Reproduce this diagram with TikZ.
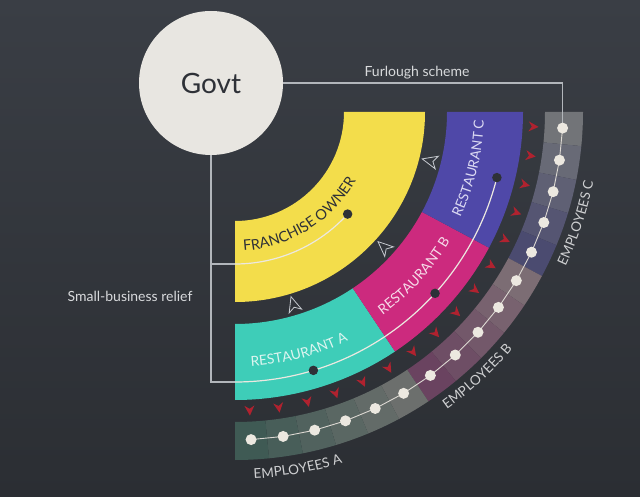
\documentclass[tikz,border=0pt]{standalone}
\usepackage{fontspec}
\setmainfont{Lato}
\usetikzlibrary{decorations.text}
\definecolor{bgtop}{HTML}{3A3E45}
\definecolor{bgbot}{HTML}{2B2E33}
\definecolor{foc}{HTML}{F3DD4B}
\definecolor{rac}{HTML}{3ECDB8}
\definecolor{rbc}{HTML}{CC2A7E}
\definecolor{rcc}{HTML}{4F48A8}
\definecolor{govtc}{HTML}{E8E6E1}
\definecolor{darktext}{HTML}{2E3137}
\definecolor{greyC}{HTML}{727478}
\definecolor{tintC}{HTML}{4B4B70}
\definecolor{greyB}{HTML}{7C6D74}
\definecolor{tintB}{HTML}{6A4360}
\definecolor{greyA}{HTML}{6C6F6D}
\definecolor{tintA}{HTML}{3F5A54}
\definecolor{cream}{HTML}{ECE8E0}
\definecolor{connc}{HTML}{B2B6BB}
\definecolor{redarr}{HTML}{B0222F}
\definecolor{warrc}{HTML}{C5C9CF}
\definecolor{ratext}{HTML}{DDF5F0}
\definecolor{rbtext}{HTML}{F6DCE9}
\definecolor{rctext}{HTML}{DCDAF3}
\definecolor{lbltext}{HTML}{D8DADC}
\definecolor{emptext}{HTML}{CFD0D2}
\newcommand\annsec[5]{\fill[#5] ([shift={(C)}]#1:#3) arc[start angle=#1,end angle=#2,radius=#3] -- ([shift={(C)}]#2:#4) arc[start angle=#2,end angle=#1,radius=#4] -- cycle;}
\tikzset{
  conn/.style={draw=connc, line width=1.2pt},
  inline/.style={draw=cream, line width=1.2pt},
  eline/.style={draw=cream!85!gray, line width=0.9pt},
  edot/.style={circle, fill=cream, minimum size=11pt, inner sep=0pt},
  ddot/.style={circle, fill=darktext, minimum size=9.5pt, inner sep=0pt},
  lbl/.style={text=lbltext, font=\fontsize{14}{16}\selectfont},
  warr/.style={draw=warrc, line width=0.8pt, line join=miter},
}
\begin{document}
\begin{tikzpicture}[x=1pt,y=1pt]
\shade[top color=bgtop,bottom color=bgbot] (0,0) rectangle (640,496);
\useasboundingbox (0,0) rectangle (640,496);
\coordinate (C) at (235,384);
% franchise owner
\annsec{-90}{0}{109}{190}{foc}
% restaurants
\annsec{-90}{-56.25}{212}{288}{rac}
\annsec{-56.25}{-28.125}{212}{288}{rbc}
\annsec{-28.125}{0}{212}{288}{rcc}
% employees blocks
\foreach \i in {0,...,15}{
  \pgfmathsetmacro\aa{-5.625*\i}
  \pgfmathsetmacro\ab{-5.625*(\i+1)}
  \ifnum\i<5
    \pgfmathtruncatemacro\p{100*\i/4}\colorlet{blk}{tintC!\p!greyC}
  \else\ifnum\i<10
    \pgfmathtruncatemacro\p{100*(\i-5)/4}\colorlet{blk}{tintB!\p!greyB}
  \else
    \pgfmathtruncatemacro\p{100*(\i-10)/5}\colorlet{blk}{tintA!\p!greyA}
  \fi\fi
  \annsec{\aa}{\ab}{310}{348}{blk}
}
% govt
\node[circle, fill=govtc, minimum size=144pt, inner sep=0pt, text=darktext, font=\fontsize{28}{30}\selectfont] (govt) at (211,413) {Govt};
% entry coordinates
\coordinate (foin) at ([shift={(C)}]-90:152);
\coordinate (rain) at ([shift={(C)}]-90:270);
% employee coordinates
\foreach \i in {0,...,15}{
  \pgfmathsetmacro\ang{-2.8125-5.625*\i}
  \coordinate (e\i) at ([shift={(C)}]\ang:328);
}
% connectors outside
\draw[conn] (govt.south) |- (rain);
\draw[conn] (govt.south |- foin) -- (foin);
\draw[conn] (govt.east) -- (govt.east -| e0) -- (e0);
% inner lines
\draw[inline] (foin) arc[start angle=-90,end angle=-42.1875,radius=152];
\draw[inline] (rain) arc[start angle=-90,end angle=-14.0625,radius=270];
\foreach \i [evaluate=\i as \j using int(\i+1)] in {0,...,14}
  \draw[eline] (e\i) -- (e\j);
% dots
\foreach \i in {0,...,15} \node[edot] (d\i) at (e\i) {};
\node[ddot] (fod) at ([shift={(C)}]-42.1875:152) {};
\node[ddot] (rad) at ([shift={(C)}]-73.125:270) {};
\node[ddot] (rbd) at ([shift={(C)}]-42.1875:270) {};
\node[ddot] (rcd) at ([shift={(C)}]-14.0625:270) {};
% red arrows
\foreach \i in {0,...,15}{
  \pgfmathsetmacro\ang{-2.8125-5.625*\i}
  \fill[redarr, shift={(C)}, rotate=\ang, xshift=299pt] (5,0) -- (-5,5) -- (-1.8,0) -- (-5,-5) -- cycle;
}
% white outline arrows
\foreach \ang in {-14.0625,-42.1875,-73.125}
  \draw[warr, shift={(C)}, rotate=\ang, xshift=201pt] (-8,0) -- (7,6.5) -- (3,0) -- (7,-6.5) -- cycle;
% labels
\node[lbl] (furl) at (417,423) {Furlough scheme};
\node[lbl] (sbr) at (130,200) {Small-business relief};
% curved texts
\path[decorate, decoration={text along path, text align=center, text={|\fontsize{14.5}{16}\selectfont\color{darktext}|FRANCHISE OWNER}}] ([shift={(C)}]-85:139) arc[start angle=-85,end angle=-31,radius=139];
\path[decorate, decoration={text along path, text align=center, text={|\fontsize{13.8}{16}\selectfont\color{ratext}|RESTAURANT A}}] ([shift={(C)}]-89:255) arc[start angle=-89,end angle=-61,radius=255];
\path[decorate, decoration={text along path, text align=center, text={|\fontsize{13.8}{16}\selectfont\color{rbtext}|RESTAURANT B}}] ([shift={(C)}]-55:251) arc[start angle=-55,end angle=-30,radius=251];
\path[decorate, decoration={text along path, text align=center, text={|\fontsize{13.8}{16}\selectfont\color{rctext}|RESTAURANT C}}] ([shift={(C)}]-26:249) arc[start angle=-26,end angle=-1,radius=249];
\path[decorate, decoration={text along path, text align=center, text={|\fontsize{13.5}{16}\selectfont\color{emptext}|EMPLOYEES A}}] ([shift={(C)}]-90:367) arc[start angle=-90,end angle=-70,radius=367];
\path[decorate, decoration={text along path, text align=center, text={|\fontsize{13.5}{16}\selectfont\color{emptext}|EMPLOYEES B}}] ([shift={(C)}]-57:365) arc[start angle=-57,end angle=-38,radius=365];
\path[decorate, decoration={text along path, text align=center, text={|\fontsize{13.5}{16}\selectfont\color{emptext}|EMPLOYEES C}}] ([shift={(C)}]-28:365) arc[start angle=-28,end angle=-8,radius=365];
\end{tikzpicture}
\end{document}
